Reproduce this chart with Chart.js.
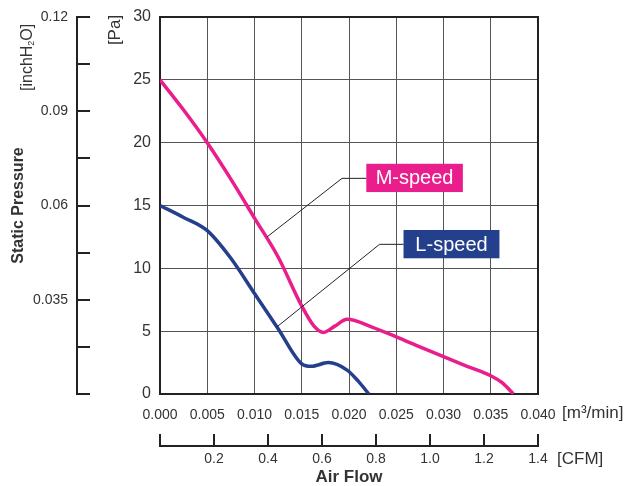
<!DOCTYPE html>
<html>
<head>
<meta charset="utf-8">
<script src="https://cdn.jsdelivr.net/npm/chart.js@4.4.2/dist/chart.umd.min.js"></script>
<style>
    html, body { margin: 0; padding: 0; background: #fff; }
    #wrap { width: 631px; height: 486px; }
</style>
</head>
<body>
<div id="wrap"><canvas id="chart" width="631" height="486"></canvas></div>
<script>
// Courbes (débit en m³/min, pression en Pa)
const flowM = [0, 0.0025, 0.005, 0.0075, 0.010, 0.0125, 0.015, 0.0163, 0.0173, 0.0185, 0.0198, 0.0225, 0.025, 0.0275, 0.030, 0.0325, 0.035, 0.0362, 0.0374];
const pressM = [25, 22.6, 20.0, 17.1, 14.0, 10.9, 7.0, 5.4, 4.9, 5.4, 5.95, 5.3, 4.55, 3.75, 2.97, 2.2, 1.45, 0.9, 0];
const flowL = [0, 0.0025, 0.005, 0.0075, 0.010, 0.0125, 0.015, 0.016, 0.0178, 0.0198, 0.021, 0.0221];
const pressL = [15, 14.05, 13.0, 10.8, 8.0, 5.2, 2.4, 2.2, 2.5, 1.9, 1.0, 0];

const seriesNames = ['M-speed', 'L-speed'];
const seriesColors = ['#E91E8C', '#243F8C'];

// Libellés des axes secondaires
const inchLabels = ['', '', '0.035', '', '0.06', '', '0.09', '', '0.12'];
const cfmLabels = ['', '0.2', '0.4', '0.6', '0.8', '1.0', '1.2', '1.4'];

// Étiquettes (en coordonnées de données)
const callouts = [
    { text: 'M-speed', color: '#E91E8C', box: [0.02183, 18.32, 0.03205, 16.07], elbow: [0.01926, 17.16], end: [0.01133, 12.5] },
    { text: 'L-speed', color: '#243F8C', box: [0.02577, 13.05, 0.03592, 10.8], elbow: [0.02323, 11.91], end: [0.01239, 5.35] }
];

const FONT = '"Liberation Sans", Arial, Helvetica, sans-serif';
Chart.defaults.font.family = FONT;
Chart.defaults.color = '#333';

const toPoints = (xs, ys) => xs.map((x, i) => ({ x, y: ys[i] }));

const extras = {
    id: 'extras',
    beforeDatasetsDraw(chart) {
        const { ctx, chartArea: a } = chart;
        ctx.save();
        ctx.strokeStyle = '#222';
        ctx.lineWidth = 2;
        ctx.strokeRect(a.left, a.top, a.right - a.left, a.bottom - a.top);
        ctx.restore();
    },
    afterDatasetsDraw(chart) {
        const { ctx } = chart;
        const sx = chart.scales.x, sy = chart.scales.y;
        ctx.save();
        callouts.forEach(c => {
            const x1 = sx.getPixelForValue(c.box[0]), y1 = sy.getPixelForValue(c.box[1]);
            const x2 = sx.getPixelForValue(c.box[2]), y2 = sy.getPixelForValue(c.box[3]);
            ctx.strokeStyle = '#222';
            ctx.lineWidth = 1;
            ctx.beginPath();
            ctx.moveTo(x1, sy.getPixelForValue(c.elbow[1]));
            ctx.lineTo(sx.getPixelForValue(c.elbow[0]), sy.getPixelForValue(c.elbow[1]));
            ctx.lineTo(sx.getPixelForValue(c.end[0]), sy.getPixelForValue(c.end[1]));
            ctx.stroke();
            ctx.fillStyle = c.color;
            ctx.fillRect(x1, y1, x2 - x1, y2 - y1);
            ctx.fillStyle = '#fff';
            ctx.font = '20px ' + FONT;
            ctx.textAlign = 'center';
            ctx.textBaseline = 'middle';
            ctx.fillText(c.text, (x1 + x2) / 2, (y1 + y2) / 2 + 1);
        });

        // unités
        ctx.fillStyle = '#333';
        ctx.font = '17px ' + FONT;
        ctx.textAlign = 'left';
        ctx.textBaseline = 'middle';
        ctx.fillText('[m³/min]', 562, 413);
        ctx.fillText('[CFM]', 557, 459);

        ctx.save();
        ctx.translate(115, 30);
        ctx.rotate(-Math.PI / 2);
        ctx.textAlign = 'center';
        ctx.font = '17px ' + FONT;
        ctx.fillText('[Pa]', 0, 0);
        ctx.restore();

        ctx.save();
        ctx.translate(28, 91);
        ctx.rotate(-Math.PI / 2);
        ctx.textAlign = 'left';
        ctx.font = '16px ' + FONT;
        let w = 0;
        ctx.fillText('[inchH', w, 0);
        w += ctx.measureText('[inchH').width;
        ctx.font = '9px ' + FONT;
        ctx.fillText('2', w, 4);
        w += ctx.measureText('2').width;
        ctx.font = '16px ' + FONT;
        ctx.fillText('O]', w, 0);
        ctx.restore();
        ctx.restore();
    }
};

const noOverflow = s => { s.paddingTop = 0; s.paddingBottom = 0; };

new Chart(document.getElementById('chart'), {
    type: 'line',
    data: {
        datasets: [
            { label: seriesNames[0], data: toPoints(flowM, pressM), borderColor: seriesColors[0], borderWidth: 3.5, pointRadius: 0, cubicInterpolationMode: 'monotone', fill: false },
            { label: seriesNames[1], data: toPoints(flowL, pressL), borderColor: seriesColors[1], borderWidth: 3.5, pointRadius: 0, cubicInterpolationMode: 'monotone', fill: false }
        ]
    },
    options: {
        responsive: false,
        animation: false,
        layout: { padding: { left: 0, right: 93, top: 17, bottom: 0 } },
        plugins: { legend: { display: false }, tooltip: { enabled: false } },
        scales: {
            x: {
                type: 'linear', position: 'bottom', weight: 0, min: 0, max: 0.04,
                ticks: { stepSize: 0.005, autoSkip: false, maxRotation: 0, padding: 13, font: { size: 14 }, color: '#333', callback: v => v.toFixed(3) },
                grid: { color: '#555', lineWidth: 1, drawTicks: false },
                border: { display: true, width: 2, color: '#222' },
                afterFit: s => { s.height = 52; }
            },
            x2: {
                type: 'linear', position: 'bottom', weight: 1, min: 0, max: 1.4,
                ticks: { stepSize: 0.2, autoSkip: false, maxRotation: 0, padding: 17, font: { size: 14 }, color: '#333', callback: (v, i) => cfmLabels[i] },
                grid: { drawOnChartArea: false, tickLength: -12, lineWidth: 2, color: '#222' },
                border: { display: true, width: 2, color: '#222' },
                title: { display: true, text: 'Air Flow', font: { size: 17, weight: 'bold', lineHeight: 1 }, color: '#333', padding: { top: 0, bottom: 0 } },
                afterFit: s => { s.height = 40; }
            },
            y: {
                type: 'linear', position: 'left', weight: 0, min: 0, max: 30,
                ticks: { stepSize: 5, padding: 9, font: { size: 16 }, color: '#333' },
                grid: { color: '#555', lineWidth: 1, drawTicks: false },
                border: { display: true, width: 2, color: '#222' },
                afterFit: s => { s.width = 83; noOverflow(s); }
            },
            y2: {
                type: 'linear', position: 'left', weight: 1, min: 0, max: 0.12,
                ticks: { stepSize: 0.015, padding: 22, font: { size: 14 }, color: '#333', callback: (v, i) => inchLabels[i] },
                grid: { drawOnChartArea: false, tickLength: -13, lineWidth: 2, color: '#222' },
                border: { display: true, width: 2, color: '#222' },
                title: { display: true, text: 'Static Pressure', font: { size: 16, weight: 'bold' }, color: '#333', padding: { top: 9, bottom: 0 } },
                afterFit: s => { s.width = 77; noOverflow(s); }
            }
        }
    },
    plugins: [extras]
});
</script>
</body>
</html>
